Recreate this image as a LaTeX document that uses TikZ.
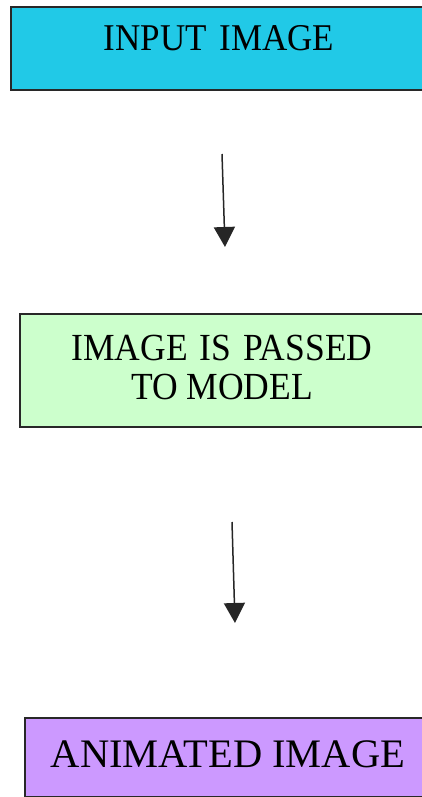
\documentclass[tikz,border=0pt]{standalone}
\usepackage{fontspec}
\setmainfont{Liberation Serif}
\usetikzlibrary{arrows.meta}
\definecolor{boxcyan}{RGB}{33,201,231}
\definecolor{boxgreen}{RGB}{204,255,204}
\definecolor{boxpurple}{RGB}{204,153,255}
\definecolor{edge}{RGB}{40,40,40}
\begin{document}
\begin{tikzpicture}[x=1pt,y=-1pt,
  box/.style={draw=edge, line width=1.8pt, anchor=north west, inner sep=0pt},
  lbl/.style={anchor=base, inner sep=0pt, text=black},
  flow/.style={line width=1.5pt, draw=black!85, -{Triangle[width=21pt,length=20pt]}}]
\useasboundingbox (0,0) rectangle (422,797);
\clip (0,0) rectangle (422,797);
\node[box, fill=boxcyan, minimum width=416pt, minimum height=83pt] (b1) at (10,6) {};
\node[box, fill=boxgreen, minimum width=407pt, minimum height=113pt] (b2) at (19,313) {};
\node[box, fill=boxpurple, minimum width=402pt, minimum height=79pt] (b3) at (24,717) {};
\node[lbl, font=\fontsize{35}{40}\selectfont, yscale=1.08] (t1) at (219,51) {INPUT\hspace{12.5pt}IMAGE};
\node[lbl, font=\fontsize{35.5}{40}\selectfont, yscale=1.08] (t2a) at (222,360) {IMAGE\hspace{12pt}IS\hspace{12pt}PASSED};
\node[lbl, font=\fontsize{35.5}{40}\selectfont, yscale=1.08] (t2b) at (222,399) {TO MODEL};
\node[lbl, font=\fontsize{40.5}{44}\selectfont] (t3) at (228,767) {ANIMATED IMAGE};
\coordinate (a1s) at (222,154);
\coordinate (a1e) at (225,247);
\coordinate (a2s) at (232,522);
\coordinate (a2e) at (235,623);
\draw[flow] (a1s) -- (a1e);
\draw[flow] (a2s) -- (a2e);
\end{tikzpicture}
\end{document}
